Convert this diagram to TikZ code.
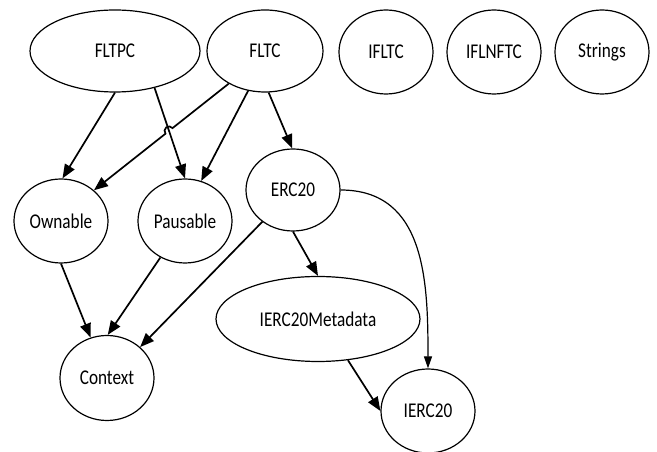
\documentclass[tikz,border=0pt]{standalone}
\usepackage{fontspec}
\setmainfont{Carlito}[FakeStretch=0.82]
\usetikzlibrary{shapes.geometric,arrows.meta,calc,intersections}
\begin{document}
\begin{tikzpicture}[x=1pt,y=1pt,
  ell/.style={draw,ellipse,line width=1.2pt,inner sep=0pt,font=\fontsize{21}{24}\selectfont},
  circ/.style={ell,minimum width=94pt,minimum height=84pt},
  arr/.style={line width=1.7pt,-{Triangle[length=14pt,width=11pt]}},
  thin arr/.style={line width=1.2pt,-{Triangle[length=12pt,width=8pt]}}]
\useasboundingbox (0,0) rectangle (657,452);
\node[ell,minimum width=170pt,minimum height=82pt] (fltpc) at (115,401) {FLTPC};
\node[ell,minimum width=116pt,minimum height=82pt] (fltc) at (265,401) {FLTC};
\node[circ] (ifltc) at (386,400) {IFLTC};
\node[circ] (iflnftc) at (494,400) {IFLNFTC};
\node[circ] (strings) at (602,400) {Strings};
\node[circ] (ownable) at (61,231) {Ownable};
\node[circ] (pausable) at (185,231) {Pausable};
\node[circ,minimum height=82pt] (erc20) at (293,262) {ERC20};
\node[ell,minimum width=204pt,minimum height=85pt] (meta) at (318,133) {IERC20Metadata};
\node[circ,minimum height=85pt] (context) at (107,74) {Context};
\node[circ] (ierc20) at (428,41) {IERC20};
% edges
\draw[arr] (fltpc.south) -- (ownable.88);
\draw[arr] (fltpc.-43) -- (pausable.north);
\path[name path=pa] (fltpc.-43) -- (pausable.north);
\path[name path=pb] (fltc.-138) -- (ownable.43);
\path[name intersections={of=pa and pb, by=X}];
\draw[arr] let \p1=($(fltc.-138)-(X)$), \n1={atan2(\y1,\x1)} in
  (fltc.-138) -- ($(X)!4.5pt!(fltc.-138)$) arc[start angle=\n1, delta angle=180, radius=4.5pt] -- (ownable.43);
\draw[arr] (fltc.-113) -- (pausable.68);
\draw[arr] (fltc.-85) -- (erc20.91);
\draw[arr] (erc20.-134) -- (context.43);
\draw[arr] (erc20.south) -- (meta.north);
\draw[thin arr] (erc20.east) to[out=0,in=90,looseness=1.1] (ierc20.north);
\draw[arr] (meta.-54) -- (ierc20.west);
\draw[arr] (ownable.south) -- (context.112);
\draw[arr] (pausable.-124) -- (context.89);
\end{tikzpicture}
\end{document}
